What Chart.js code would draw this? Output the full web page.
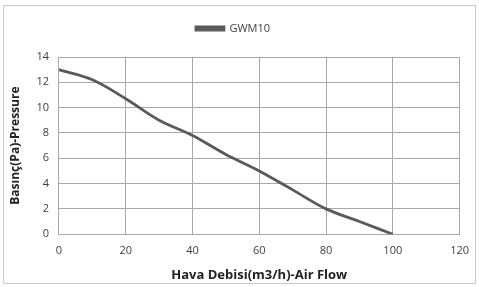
<!DOCTYPE html>
<html>
<head>
<meta charset="utf-8">
<script src="https://cdn.jsdelivr.net/npm/chart.js@4"></script>
<style>
  body { margin: 0; background: #fff; }
  #wrap { width: 479px; height: 287px; }
</style>
</head>
<body>
<div id="wrap"><canvas id="chart" width="479" height="287"></canvas></div>
<script>
const airFlow = [0, 10, 20, 30, 40, 50, 60, 70, 80, 90, 100];
const pressure = [13, 12.2, 10.7, 9.0, 7.8, 6.3, 5.0, 3.5, 2.0, 1.0, 0];
const seriesName = "GWM10";
const xTitle = "Hava Debisi(m3/h)-Air Flow";
const yTitle = "Basınç(Pa)-Pressure";

const font = "'Open Sans', 'Liberation Sans', sans-serif";

// frame round the whole picture
const framePlugin = {
    id: "frame",
    beforeDraw(chart) {
        const c = chart.ctx;
        c.save();
        c.strokeStyle = "#c8c8c8";
        c.lineWidth = 1;
        c.strokeRect(3.5, 5.5, 472, 278);
        c.restore();
    }
};

// leave more room under the legend
const legendGap = {
    id: "legendGap",
    beforeInit(chart) {
        const fit = chart.legend.fit;
        chart.legend.fit = function () {
            fit.bind(chart.legend)();
            this.height += 13;
        };
    }
};

new Chart(document.getElementById("chart").getContext("2d"), {
    type: "scatter",
    data: {
        datasets: [{
            label: seriesName,
            data: airFlow.map((x, i) => ({ x: x, y: pressure[i] })),
            showLine: true,
            borderColor: "#5a5a5a",
            backgroundColor: "#5a5a5a",
            borderWidth: 2.8,
            pointRadius: 0,
            tension: 0.35,
        }]
    },
    options: {
        responsive: false,
        animation: false,
        layout: { padding: { left: 4, right: 17, top: 9, bottom: 0 } },
        plugins: {
            legend: {
                labels: {
                    boxWidth: 28,
                    boxHeight: 3,
                    color: "#404040",
                    font: { family: font, size: 11 },
                    padding: 14,
                },
            },
            tooltip: { enabled: false },
        },
        scales: {
            x: {
                min: 0, max: 120,
                ticks: { stepSize: 20, color: "#404040", font: { family: font, size: 11 }, padding: 10 },
                grid: { color: "#a8a8a8", drawTicks: false },
                border: { color: "#a8a8a8" },
                title: {
                    display: true, text: xTitle, color: "#222",
                    font: { family: font, size: 13, weight: "bold" },
                    padding: { top: 0, bottom: 4 },
                },
            },
            y: {
                min: 0, max: 14,
                ticks: { stepSize: 2, color: "#404040", font: { family: font, size: 11 }, padding: 10 },
                grid: { color: "#a8a8a8", drawTicks: false },
                border: { color: "#a8a8a8" },
                title: { display: true, text: yTitle, color: "#222", font: { family: font, size: 12, weight: "bold" } },
            },
        },
    },
    plugins: [framePlugin, legendGap],
});
</script>
</body>
</html>
